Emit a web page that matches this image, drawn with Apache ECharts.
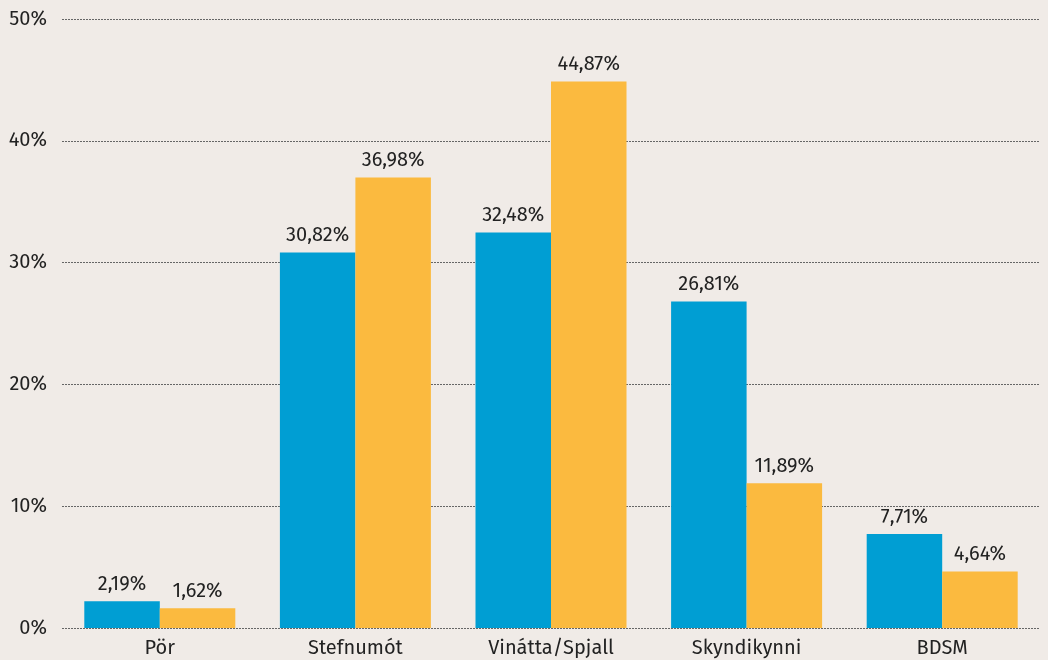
<!DOCTYPE html>
<html>
<head>
<meta charset="utf-8">
<script src="https://cdn.jsdelivr.net/npm/echarts@6/dist/echarts.min.js"></script>
<style>
html, body { margin: 0; padding: 0; background: #f0ebe7; }
#chart { width: 1048px; height: 660px; }
</style>
</head>
<body>
<div id="chart"></div>
<script>
// gögn
var categories = ['Pör', 'Stefnumót', 'Vinátta/Spjall', 'Skyndikynni', 'BDSM'];
var blueValues = [2.19, 30.82, 32.48, 26.81, 7.71];
var orangeValues = [1.62, 36.98, 44.87, 11.89, 4.64];
var yTicks = [0, 10, 20, 30, 40, 50];

function pct(v) {
    return v.toFixed(2).replace('.', ',') + '%';
}

var myChart = echarts.init(document.getElementById('chart'));
var font = '"Fira Sans", "Noto Sans", sans-serif';

var option = {
    backgroundColor: '#f0ebe7',
    animation: false,
    textStyle: { fontFamily: font },
    grid: { left: 62, right: 8, top: 19, bottom: 32 },
    xAxis: {
        type: 'category',
        data: categories,
        axisLine: { show: false },
        axisTick: { show: false },
        axisLabel: { color: '#222', fontSize: 20, margin: 10, fontFamily: font }
    },
    yAxis: {
        type: 'value',
        min: yTicks[0],
        max: yTicks[yTicks.length - 1],
        interval: 10,
        axisLine: { show: false },
        axisTick: { show: false },
        axisLabel: {
            color: '#222', fontSize: 20, margin: 15, fontFamily: font,
            formatter: function (v) { return v + '%'; }
        },
        splitLine: { lineStyle: { color: '#666', type: [2, 1], width: 1 } }
    },
    series: [
        {
            type: 'bar',
            data: blueValues,
            barGap: '0%',
            barCategoryGap: '22.8%',
            itemStyle: { color: '#009ed3' },
            label: {
                show: true, position: 'top', distance: 7,
                color: '#222', fontSize: 20, fontFamily: font,
                formatter: function (p) { return pct(p.value); }
            }
        },
        {
            type: 'bar',
            data: orangeValues,
            barGap: '0%',
            barCategoryGap: '22.8%',
            itemStyle: { color: '#fbba3f' },
            label: {
                show: true, position: 'top', distance: 7,
                color: '#222', fontSize: 20, fontFamily: font,
                formatter: function (p) { return pct(p.value); }
            }
        }
    ]
};
myChart.setOption(option);
</script>
</body>
</html>
